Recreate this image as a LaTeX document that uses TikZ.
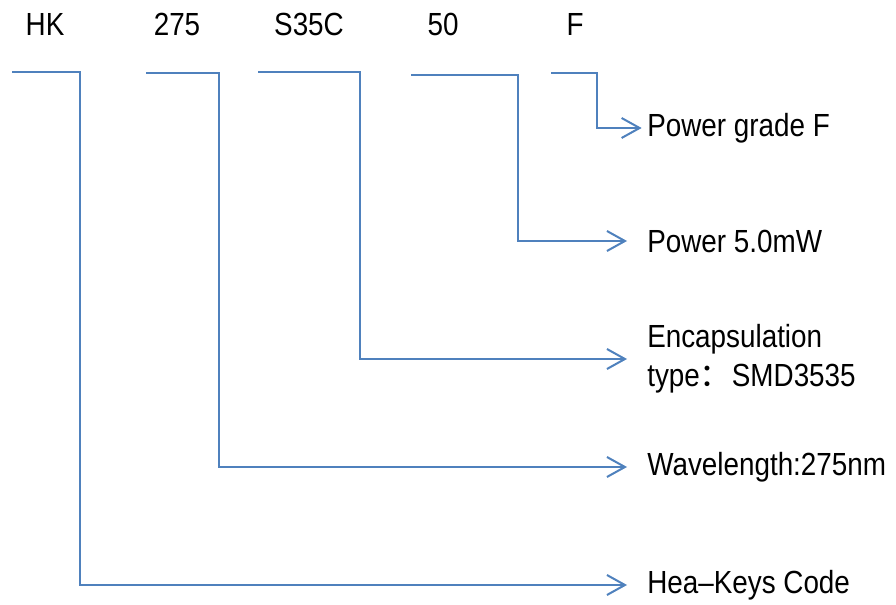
\documentclass[tikz,border=0pt]{standalone}
\usepackage{fontspec}
\setmainfont{Liberation Sans}[FakeStretch=0.87]
\newfontfamily\cjk{Noto Sans CJK SC}
\usetikzlibrary{arrows.meta}
\definecolor{linkblue}{RGB}{79,129,189}

\begin{document}
\begin{tikzpicture}[
    x=0.75pt, y=-0.75pt,
    code/.style={anchor=base, inner sep=0pt, font=\fontsize{24}{29}\selectfont},
    meaning/.style={anchor=west, inner sep=0pt, align=left, font=\fontsize{24}{29}\selectfont},
    link/.style={draw=linkblue, line width=1.5pt, shorten >=15pt,
        -{Straight Barb[length=13.5pt, width=15pt, line width=1.5pt]}}
]
\useasboundingbox (0,0) rectangle (896,605);

% part number
\node[code] (hk)   at (45,36)  {HK};
\node[code] (wl)   at (177,36) {275};
\node[code] (pkg)  at (309,36) {S35C};
\node[code] (pw)   at (443,36) {50};
\node[code] (gr)   at (575,36) {F};

\coordinate (hkS)  at (12,72);
\coordinate (wlS)  at (146,73);
\coordinate (pkgS) at (258,72);
\coordinate (pwS)  at (411,75);
\coordinate (grS)  at (551,73);

% meanings
\node[meaning] (grT)  at (647,128) {Power grade F};
\node[meaning] (pwT)  at (647,241) {Power 5.0mW};
\node[meaning] (pkgT) at (647,359) {Encapsulation\\type{\cjk ：}SMD3535};
\node[meaning] (wlT)  at (647,467) {Wavelength:275nm};
\node[meaning] (hkT)  at (647,585) {Hea–Keys Code};

\draw[link] (hkS) -- ++(68,0) |- (hkT.west);
\draw[link] (wlS) -- ++(73,0) |- (wlT.west);
\draw[link] (pkgS) -- ++(102,0) |- (pkgT.west);
\draw[link] (pwS) -- ++(107,0) |- (pwT.west);
\draw[link, shorten >=4pt] (grS) -- ++(46,0) |- (grT.west);

\end{tikzpicture}
\end{document}
